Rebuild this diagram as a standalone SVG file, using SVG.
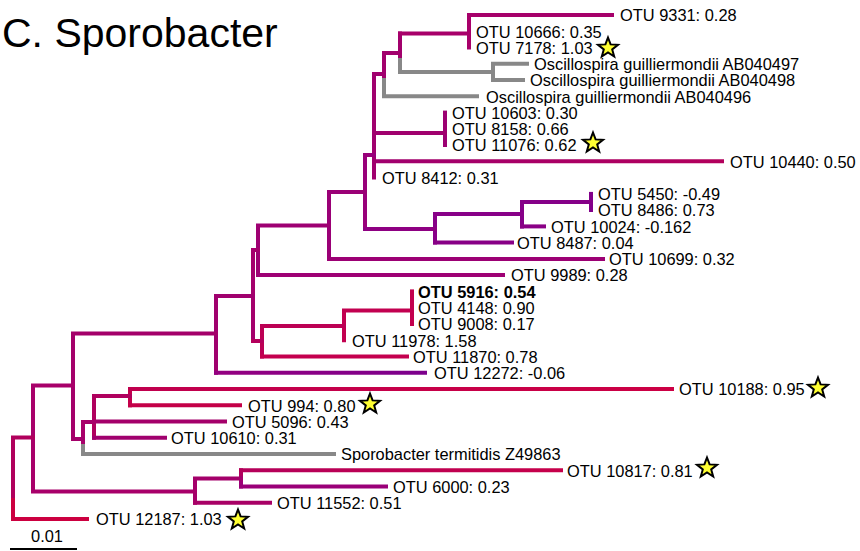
<svg xmlns="http://www.w3.org/2000/svg" xmlns:xlink="http://www.w3.org/1999/xlink" width="860" height="551" viewBox="0 0 860 551">
<style>
.b{fill:none;stroke-width:4;stroke-linecap:square}
.g{stroke:#888888}
.t{font-family:"Liberation Sans",Arial,sans-serif;font-size:16.4px;fill:#000}
.bold{font-weight:bold}
.title{font-family:"Liberation Sans",Arial,sans-serif;font-size:41px;fill:#000}
.star{fill:#FFFF33;stroke:#000;stroke-width:2;stroke-linejoin:miter}
</style>
<defs>
<polygon id="star" class="star" points="0,-10.5 2.6,-3.6 10,-3.2 4.2,1.4 6.2,8.5 0,4.4 -6.2,8.5 -4.2,1.4 -10,-3.2 -2.6,-3.6"/>
<linearGradient id="g10440" gradientUnits="userSpaceOnUse" x1="374" y1="0" x2="722" y2="0"><stop offset="0" stop-color="#A0006E"/><stop offset="1" stop-color="#B2005C"/></linearGradient>
<linearGradient id="g12272" gradientUnits="userSpaceOnUse" x1="216" y1="0" x2="425" y2="0"><stop offset="0" stop-color="#940080"/><stop offset="1" stop-color="#7C008C"/></linearGradient>
<linearGradient id="g10188" gradientUnits="userSpaceOnUse" x1="130" y1="0" x2="672" y2="0"><stop offset="0" stop-color="#C0004E"/><stop offset="1" stop-color="#CC0044"/></linearGradient>
<linearGradient id="g10817" gradientUnits="userSpaceOnUse" x1="241" y1="0" x2="561" y2="0"><stop offset="0" stop-color="#B4005A"/><stop offset="1" stop-color="#C6004A"/></linearGradient>
</defs>
<rect width="860" height="551" fill="#ffffff"/>
<text class="title" x="2" y="47">C. Sporobacter</text>

<g id="connectors">
<path class="b" stroke="#A8006A" d="M469,15V47.5"/>
<path class="b" stroke="#A6006A" d="M469,15H612"/>
<path class="b g" d="M493,63.8V80M493,63.8H527M493,80H523"/>
<path class="b" stroke="#A2006C" d="M400,33.5V60"/>
<path class="b g" d="M400,60V72"/>
<path class="b" stroke="#A8006A" d="M400,33.5H469"/>
<path class="b g" d="M400,72H493"/>
<path class="b" stroke="#A2006C" d="M384,53V80"/>
<path class="b g" d="M384,80V96.3M384,96.3H477"/>
<path class="b" stroke="#A2006C" d="M384,53H400"/>
<path class="b" stroke="#9C0072" d="M445,112.6V145"/>
<path class="b" stroke="#A0006E" d="M374,74V177.6M374,74H384M374,133H445"/>
<path class="b" stroke="url(#g10440)" d="M374,161.3H722"/>
<path class="b" stroke="#82008A" d="M591,193.9V210"/>
<path class="b" stroke="#850088" d="M522,202V226.4M522,202H591"/>
<path class="b" stroke="#8A0086" d="M522,226.4H544"/>
<path class="b" stroke="#880088" d="M435,214V242.6M435,214H522"/>
<path class="b" stroke="#880086" d="M435,242.6H512"/>
<path class="b" stroke="#98007A" d="M365,155V229M365,155H374"/>
<path class="b" stroke="#8E0082" d="M365,229H435"/>
<path class="b" stroke="#9A0076" d="M329,192V258.9M329,192H365"/>
<path class="b" stroke="#9C0074" d="M329,258.9H603"/>
<path class="b" stroke="#9E0072" d="M258,225.5V275M258,225.5H329"/>
<path class="b" stroke="#9E0074" d="M258,275H503"/>
<path class="b" stroke="#C2004E" d="M412,291.4V324"/>
<path class="b" stroke="#C20050" d="M344,310.5V340.3M344,310.5H412"/>
<path class="b" stroke="#BC0054" d="M262,326V356.5M262,326H344"/>
<path class="b" stroke="#C4004E" d="M262,356.5H407"/>
<path class="b" stroke="#A4006C" d="M253,250V341M253,250H258"/>
<path class="b" stroke="#B4005C" d="M253,341H262"/>
<path class="b" stroke="#A0006E" d="M216,296V372.7M216,296H253"/>
<path class="b" stroke="url(#g12272)" d="M216,372.7H425"/>
<path class="b" stroke="#C4004C" d="M130,389V405.3"/>
<path class="b" stroke="url(#g10188)" d="M130,389H672"/>
<path class="b" stroke="#C40048" d="M130,405.3H240"/>
<path class="b" stroke="#B0005E" d="M94,396V437.8M94,396H130"/>
<path class="b" stroke="#A4006A" d="M94,421.5H225"/>
<path class="b" stroke="#A0006E" d="M94,437.8H165"/>
<path class="b" stroke="#A8006A" d="M83,422V446M83,422H94"/>
<path class="b g" d="M83,446V454M83,454H334"/>
<path class="b" stroke="#A4006A" d="M73,333.5V439M73,333.5H216M73,439H83"/>
<path class="b" stroke="#B0005E" d="M241,470.3V478.5"/>
<path class="b" stroke="#9C0076" d="M241,478.5V486.5"/>
<path class="b" stroke="url(#g10817)" d="M241,470.3H561"/>
<path class="b" stroke="#9A0078" d="M241,486.5H386"/>
<path class="b" stroke="#A4006A" d="M195,478.5V502.8M195,478.5H241"/>
<path class="b" stroke="#A80066" d="M195,502.8H270"/>
<path class="b" stroke="#A8006A" d="M33,385.5V491.5M33,385.5H73M33,491.5H195"/>
<path class="b" stroke="#B0005C" d="M13,437.5V500M13,437.5H33"/>
<path class="b" stroke="#CC0040" d="M13,500V519M13,519H87"/>
<path d="M10,549H77" stroke="#000" stroke-width="2"/>
</g>

<g id="otu9331"><text class="t" x="620" y="21">OTU 9331: 0.28</text></g>
<g id="otu10666"><text class="t" x="476" y="37.5">OTU 10666: 0.35</text></g>
<g id="otu7178"><text class="t" x="476" y="54">OTU 7178: 1.03</text><use xlink:href="#star" x="608" y="48"/></g>
<g id="ab040497"><text class="t" x="534" y="70">Oscillospira guilliermondii AB040497</text></g>
<g id="ab040498"><text class="t" x="530" y="86">Oscillospira guilliermondii AB040498</text></g>
<g id="ab040496"><text class="t" x="486" y="102.5">Oscillospira guilliermondii AB040496</text></g>
<g id="otu10603"><text class="t" x="452" y="119">OTU 10603: 0.30</text></g>
<g id="otu8158"><text class="t" x="452" y="135">OTU 8158: 0.66</text></g>
<g id="otu11076"><text class="t" x="452" y="151">OTU 11076: 0.62</text><use xlink:href="#star" x="593" y="143"/></g>
<g id="otu10440"><text class="t" x="730" y="167.5">OTU 10440: 0.50</text></g>
<g id="otu8412"><text class="t" x="382" y="184">OTU 8412: 0.31</text></g>
<g id="otu5450"><text class="t" x="598" y="200">OTU 5450: -0.49</text></g>
<g id="otu8486"><text class="t" x="598" y="216">OTU 8486: 0.73</text></g>
<g id="otu10024"><text class="t" x="551" y="232.5">OTU 10024: -0.162</text></g>
<g id="otu8487"><text class="t" x="517" y="249">OTU 8487: 0.04</text></g>
<g id="otu10699"><text class="t" x="609" y="265">OTU 10699: 0.32</text></g>
<g id="otu9989"><text class="t" x="511" y="281">OTU 9989: 0.28</text></g>
<g id="otu5916"><text class="t bold" x="418" y="297.5">OTU 5916: 0.54</text></g>
<g id="otu4148"><text class="t" x="418" y="314">OTU 4148: 0.90</text></g>
<g id="otu9008"><text class="t" x="418" y="330">OTU 9008: 0.17</text></g>
<g id="otu11978"><text class="t" x="352" y="346.5">OTU 11978: 1.58</text></g>
<g id="otu11870"><text class="t" x="413" y="362.5">OTU 11870: 0.78</text></g>
<g id="otu12272"><text class="t" x="434" y="379">OTU 12272: -0.06</text></g>
<g id="otu10188"><text class="t" x="679" y="395">OTU 10188: 0.95</text><use xlink:href="#star" x="818" y="388"/></g>
<g id="otu994"><text class="t" x="248" y="411.5">OTU 994: 0.80</text><use xlink:href="#star" x="370" y="404"/></g>
<g id="otu5096"><text class="t" x="232" y="427.5">OTU 5096: 0.43</text></g>
<g id="otu10610"><text class="t" x="171" y="444">OTU 10610: 0.31</text></g>
<g id="z49863"><text class="t" x="341" y="460">Sporobacter termitidis Z49863</text></g>
<g id="otu10817"><text class="t" x="567" y="476.5">OTU 10817: 0.81</text><use xlink:href="#star" x="707" y="468"/></g>
<g id="otu6000"><text class="t" x="393" y="492.5">OTU 6000: 0.23</text></g>
<g id="otu11552"><text class="t" x="277" y="509">OTU 11552: 0.51</text></g>
<g id="otu12187"><text class="t" x="96" y="525">OTU 12187: 1.03</text><use xlink:href="#star" x="238" y="520"/></g>
<g id="scale"><text class="t" x="47" y="542" text-anchor="middle">0.01</text></g>
</svg>
